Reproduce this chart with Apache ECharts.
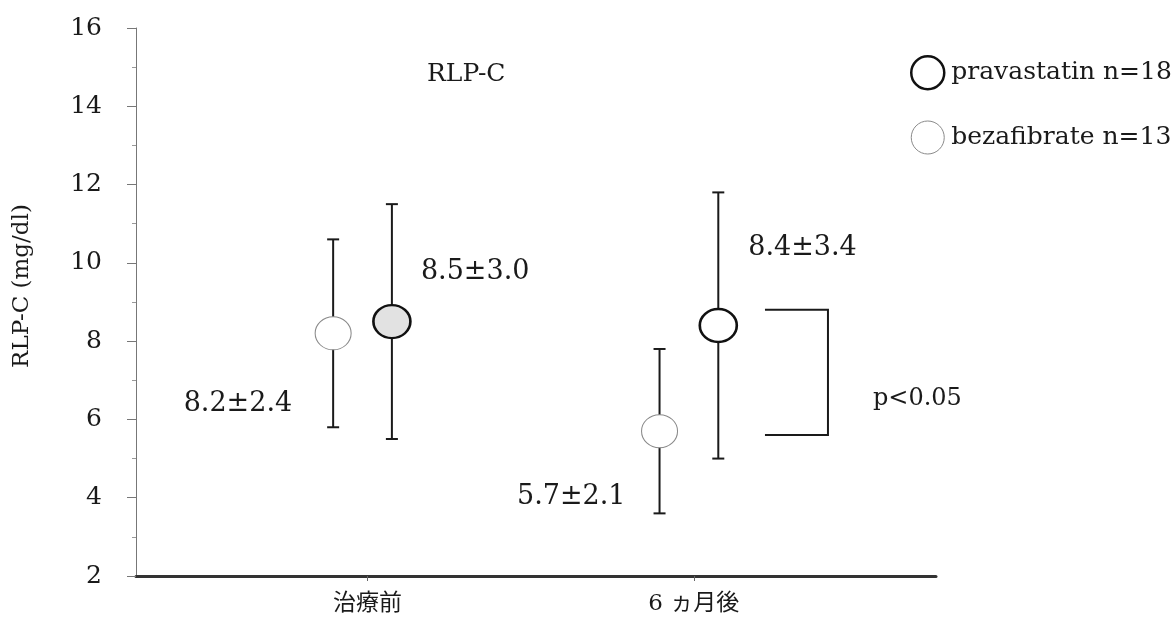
<!DOCTYPE html>
<html>
<head>
<meta charset="utf-8">
<script src="https://cdn.jsdelivr.net/npm/echarts@6/dist/echarts.min.js"></script>
<style>
  html, body { margin: 0; padding: 0; background: #fff; }
  #chart { width: 1176px; height: 625px; }
</style>
</head>
<body>
<div id="chart"></div>
<script>
// RLP-C before treatment and after 6 months, mean ± SD per group
const categories = ['治療前', '6 ヵ月後'];
const pravName = 'pravastatin n=18';
const bezaName = 'bezafibrate n=13';
const pravMean = [8.5, 8.4];
const pravSD = [3.0, 3.4];
const bezaMean = [8.2, 5.7];
const bezaSD = [2.4, 2.1];
const yMin = 2, yMax = 16, yStep = 2;
// significance bracket between the two groups at 6 months
const bracketValues = [8.8, 5.6];
const bracketText = 'p<0.05';
const titleText = 'RLP-C';
const yAxisName = 'RLP-C (mg/dl)';

const SERIF = '"DejaVu Serif", "Liberation Serif", serif';
const SERIF_JP = '"DejaVu Serif", "Noto Sans CJK JP", serif';
const INK = '#1a1a1a';

// horizontal dodge of each group around its category position
const dodge = { beza: -0.105, prav: 0.075 };

const catPos = categories.map((c, i) => i + 1);

function pts(means, sds, off) {
  return means.map((m, i) => [catPos[i] + off, m, m - sds[i], m + sds[i]]);
}
const pravPts = pts(pravMean, pravSD, dodge.prav);
const bezaPts = pts(bezaMean, bezaSD, dodge.beza);

// label placement (pixel offsets from each point)
const bezaLabelCfg = [
  { align: 'right', offset: [-41, 71] },
  { align: 'right', offset: [-34, 66] }
];
const pravLabelCfg = [
  { align: 'left', offset: [29, -50] },
  { align: 'left', offset: [30, -78] }
];

function errorBarRender(params, api) {
  const x = api.value(0);
  const lo = api.coord([x, api.value(2)]);
  const hi = api.coord([x, api.value(3)]);
  const cap = 6;
  const st = { stroke: INK, lineWidth: 2 };
  return {
    type: 'group',
    children: [
      { type: 'line', shape: { x1: lo[0], y1: lo[1], x2: hi[0], y2: hi[1] }, style: st },
      { type: 'line', shape: { x1: hi[0] - cap, y1: hi[1], x2: hi[0] + cap, y2: hi[1] }, style: st },
      { type: 'line', shape: { x1: lo[0] - cap, y1: lo[1], x2: lo[0] + cap, y2: lo[1] }, style: st }
    ]
  };
}

function scatterData(points, means, sds, labelCfg, fills) {
  return points.map((p, i) => ({
    value: [p[0], p[1]],
    itemStyle: fills ? { color: fills[i] } : undefined,
    label: {
      show: true,
      position: 'inside',
      align: labelCfg[i].align,
      verticalAlign: 'middle',
      offset: labelCfg[i].offset,
      formatter: means[i].toFixed(1) + '±' + sds[i].toFixed(1),
      fontFamily: SERIF,
      fontSize: 27,
      color: INK
    }
  }));
}

const chart = echarts.init(document.getElementById('chart'), null, { renderer: 'canvas' });

const option = {
  backgroundColor: '#fff',
  animation: false,
  grid: { left: 136, right: 240, top: 28, bottom: 49, containLabel: false },
  legend: {
    orient: 'vertical',
    left: 905,
    top: 50,
    itemWidth: 37,
    itemHeight: 33,
    itemGap: 30,
    icon: 'circle',
    textStyle: { fontFamily: SERIF, fontSize: 25, color: INK },
    data: [
      { name: pravName, itemStyle: { color: '#fff', borderColor: '#111', borderWidth: 2.5 } },
      { name: bezaName, itemStyle: { color: '#fff', borderColor: '#8a8a8a', borderWidth: 1 } }
    ]
  },
  graphic: [
    {
      type: 'text', left: 427, top: 62,
      style: { text: titleText, font: '25px ' + SERIF, fill: INK }
    }
  ],
  xAxis: {
    type: 'value',
    min: 0.291,
    max: 2.742,
    splitLine: { show: false },
    axisLine: { show: true, lineStyle: { color: '#333', width: 3 } },
    axisTick: { show: true, customValues: catPos, length: 5, lineStyle: { color: '#666', width: 1 } },
    axisLabel: {
      customValues: catPos,
      formatter: (v) => categories[Math.round(v) - 1] || '',
      fontFamily: SERIF_JP,
      fontSize: 23,
      color: INK,
      margin: 17
    }
  },
  yAxis: {
    type: 'value',
    min: yMin,
    max: yMax,
    interval: yStep,
    name: yAxisName,
    nameLocation: 'middle',
    nameRotate: 90,
    nameGap: 102,
    nameTextStyle: { fontFamily: SERIF, fontSize: 23, color: INK, padding: [0, 0, 0, 32] },
    splitLine: { show: false },
    axisLine: { show: true, lineStyle: { color: '#777', width: 1 } },
    axisTick: { show: true, length: 9, lineStyle: { color: '#777', width: 1 } },
    minorTick: { show: true, splitNumber: 2, length: 4, lineStyle: { color: '#999', width: 1 } },
    axisLabel: { fontFamily: SERIF, fontSize: 25, color: INK, margin: 34 }
  },
  series: [
    {
      name: 'beza-error',
      type: 'custom',
      renderItem: errorBarRender,
      data: bezaPts,
      z: 1,
      silent: true
    },
    {
      name: 'prav-error',
      type: 'custom',
      renderItem: errorBarRender,
      data: pravPts,
      z: 1,
      silent: true
    },
    {
      name: 'bracket',
      type: 'custom',
      z: 1,
      silent: true,
      data: [[catPos[1], bracketValues[0], bracketValues[1]]],
      renderItem: (params, api) => {
        const x0 = api.value(0) + 0.218;
        const x1 = api.value(0) + 0.411;
        const a = api.coord([x0, api.value(1)]);
        const b = api.coord([x1, api.value(1)]);
        const c = api.coord([x1, api.value(2)]);
        const d = api.coord([x0, api.value(2)]);
        return {
          type: 'group',
          children: [
            {
              type: 'polyline',
              shape: { points: [a, b, c, d] },
              style: { stroke: INK, lineWidth: 2, fill: null }
            },
            {
              type: 'text',
              x: b[0] + 45,
              y: (b[1] + c[1]) / 2 + 26,
              style: {
                text: bracketText, font: '24px ' + SERIF, fill: INK,
                textAlign: 'left', textVerticalAlign: 'middle'
              }
            }
          ]
        };
      }
    },
    {
      name: bezaName,
      type: 'scatter',
      z: 3,
      symbol: 'circle',
      symbolSize: [36, 33],
      itemStyle: { color: '#fff', borderColor: '#8a8a8a', borderWidth: 1, opacity: 1 },
      data: scatterData(bezaPts, bezaMean, bezaSD, bezaLabelCfg)
    },
    {
      name: pravName,
      type: 'scatter',
      z: 3,
      symbol: 'circle',
      symbolSize: [37, 33],
      itemStyle: { color: '#fff', borderColor: '#111', borderWidth: 2.5, opacity: 1 },
      data: scatterData(pravPts, pravMean, pravSD, pravLabelCfg, ['#e2e2e2', '#fff'])
    }
  ]
};

chart.setOption(option);
</script>
</body>
</html>
